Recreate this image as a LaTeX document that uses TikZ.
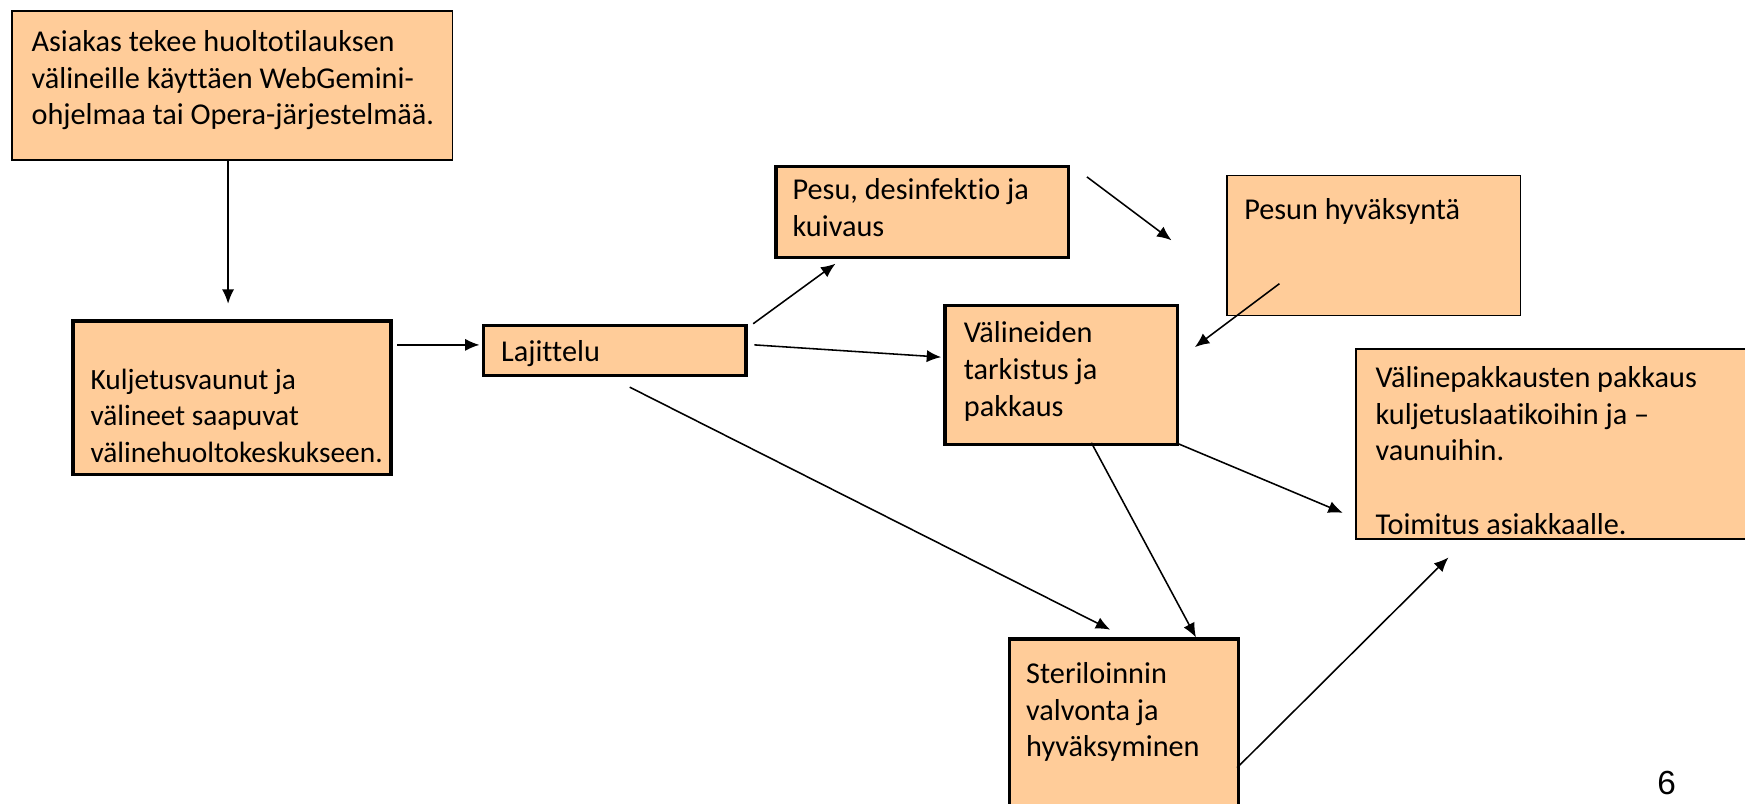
\documentclass[tikz,border=0pt]{standalone}
\usepackage{fontspec}
\setmainfont{Carlito}[Ligatures=NoCommon]
\newfontfamily\pagefont{Liberation Sans}
\usetikzlibrary{arrows.meta}
\definecolor{peach}{HTML}{FFCC99}
\begin{document}
\begin{tikzpicture}[x=0.5pt,y=-0.5pt,
  thickbox/.style={draw=black,fill=peach,line width=1.5pt,inner sep=0pt,anchor=north west},
  thinbox/.style={draw=black,fill=peach,line width=0.7pt,inner sep=0pt,anchor=north west},
  lbl/.style={anchor=north west,inner sep=0pt,align=left,font=\fontsize{13.6pt}{16.5pt}\selectfont},
  conn/.style={line width=0.7pt,-{Latex[length=6.5pt,width=5.5pt]}}]
\useasboundingbox (0,0) rectangle (1568.5,721.8);
% boxes
\node[thinbox,minimum width=198pt,minimum height=67pt] (b1) at (10,9) {};
\node[lbl] (t1) at (28,27) {Asiakas tekee huoltotilauksen\\välineille käyttäen WebGemini-\\ohjelmaa tai Opera-järjestelmää.};
\node[thickbox,minimum width=143pt,minimum height=69pt] (b2) at (64,287) {};
\node[lbl,font=\fontsize{13.2pt}{16.5pt}\selectfont] (t2) at (81,331) {Kuljetusvaunut ja\\välineet saapuvat\\välinehuoltokeskukseen.};
\node[thickbox,minimum width=118pt,minimum height=22.5pt] (b3) at (433,291) {};
\node[lbl] (t3) at (450,306) {Lajittelu};
\node[thickbox,minimum width=131.5pt,minimum height=41pt] (b4) at (696,148) {};
\node[lbl] (t4) at (712,160) {Pesu, desinfektio ja\\kuivaus};
\node[thinbox,minimum width=132pt,minimum height=63pt] (b5) at (1102,157) {};
\node[lbl] (t5) at (1118,178) {Pesun hyväksyntä};
\node[thickbox,minimum width=104.5pt,minimum height=62.5pt] (b6) at (848,273) {};
\node[lbl] (t6) at (866,289) {Välineiden\\tarkistus ja\\pakkaus};
\node[thinbox,minimum width=200pt,minimum height=85.5pt] (b7) at (1218,313) {};
\node[lbl] (t7) at (1236,329) {Välinepakkausten pakkaus\\kuljetuslaatikoihin ja –\\vaunuihin.\\[16.5pt]Toimitus asiakkaalle.};
\node[thickbox,minimum width=103pt,minimum height=90pt] (b8) at (906,573) {};
\node[lbl] (t8) at (922,595) {Steriloinnin\\valvonta ja\\hyväksyminen};
\node[anchor=center,inner sep=0pt,font=\pagefont\fontsize{15pt}{18pt}\selectfont] (pg) at (1498,704) {6};
% connector end points
\coordinate (a1s) at (205,143); \coordinate (a1e) at (205,273);
\coordinate (a2s) at (357,310); \coordinate (a2e) at (431,310);
\coordinate (a3s) at (677,291); \coordinate (a3e) at (751,237);
\coordinate (a4s) at (678,310); \coordinate (a4e) at (846,321);
\coordinate (a5s) at (977,159); \coordinate (a5e) at (1053,216);
\coordinate (a6s) at (1150,255); \coordinate (a6e) at (1074,312);
\coordinate (a7s) at (566,348); \coordinate (a7e) at (998,566);
\coordinate (a8s) at (981,398); \coordinate (a8e) at (1075,573);
\coordinate (a9s) at (1057,398); \coordinate (a9e) at (1207,461);
\coordinate (a10s) at (1112,690); \coordinate (a10e) at (1302,501);
\draw[conn] (a1s) -- (a1e);
\draw[conn] (a2s) -- (a2e);
\draw[conn] (a3s) -- (a3e);
\draw[conn] (a4s) -- (a4e);
\draw[conn] (a5s) -- (a5e);
\draw[conn] (a6s) -- (a6e);
\draw[conn] (a7s) -- (a7e);
\draw[conn] (a8s) -- (a8e);
\draw[conn] (a9s) -- (a9e);
\draw[conn] (a10s) -- (a10e);
\end{tikzpicture}
\end{document}
